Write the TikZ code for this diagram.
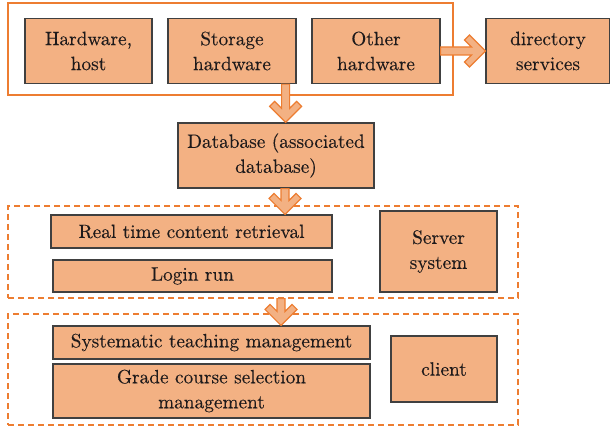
\documentclass[tikz,border=0pt]{standalone}
\usepackage{fontspec}
\newfontfamily\boxfont{lmroman10-regular.otf}[FakeBold=0.2]
\usetikzlibrary{calc}
\definecolor{peach}{RGB}{243,177,131}
\definecolor{orng}{RGB}{237,125,49}
\definecolor{bord}{RGB}{64,64,64}
\definecolor{txt}{RGB}{30,26,27}
\tikzset{
 box/.style={draw=bord, fill=peach, line width=1.2pt, inner sep=0pt, align=center,
   font=\boxfont\fontsize{19.3}{25}\selectfont, text=txt},
 grp/.style={draw=orng, line width=1.2pt, inner sep=0pt},
 grpd/.style={grp, dash pattern=on 6pt off 4pt},
 arr/.style={draw=orng, fill=peach, line width=1.2pt, line join=miter},
}
\newcommand\chevdown[2]{%
 \draw[arr] let \p1=(#1), \p2=(#2) in (\x2,\y2) -- (\x2-16pt,\y2+16pt) -- (\x2-11pt,\y2+21pt)
  -- (\x2-4pt,\y2+14pt) -- (\x2-4pt,\y1) -- (\x2+4pt,\y1) -- (\x2+4pt,\y2+14pt)
  -- (\x2+11pt,\y2+21pt) -- (\x2+16pt,\y2+16pt) -- cycle;}
\newcommand\chevright[2]{%
 \draw[arr] let \p1=(#1), \p2=(#2) in (\x2,\y2) -- (\x2-16pt,\y2+16pt) -- (\x2-21pt,\y2+11pt)
  -- (\x2-14pt,\y2+4pt) -- (\x1,\y2+4pt) -- (\x1,\y2-4pt) -- (\x2-14pt,\y2-4pt)
  -- (\x2-21pt,\y2-11pt) -- (\x2-16pt,\y2-16pt) -- cycle;}
\begin{document}
\begin{tikzpicture}[x=1pt,y=-1pt]
\fill[white] (0,0) rectangle (610,428);
\useasboundingbox (0,0) rectangle (610,428);
% groups
\node[grp, minimum width=445pt, minimum height=92pt] (top) at (230.5,49) {};
\node[grpd, minimum width=510pt, minimum height=92pt] (srv) at (263,252) {};
\node[grpd, minimum width=510pt, minimum height=111pt] (cli) at (263,369.5) {};
% top row
\node[box, minimum width=127pt, minimum height=65pt] (hw) at (88.5,51) {Hardware,\\host};
\node[box, minimum width=128pt, minimum height=65pt] (st) at (232,51) {Storage\\hardware};
\node[box, minimum width=128pt, minimum height=65pt] (ot) at (376,51) {Other\\hardware};
\node[box, minimum width=124pt, minimum height=65pt] (dir) at (548,51) {directory\\services};
% database
\node[box, minimum width=196pt, minimum height=65pt] (db) at (276,155.5) {Database (associated\\database)};
% server group
\node[box, minimum width=281pt, minimum height=33pt] (rt) at (191.5,231.5) {Real time content retrieval};
\node[box, minimum width=279pt, minimum height=32pt] (lg) at (192.5,276) {Login run};
\node[box, minimum width=117pt, minimum height=81pt] (ss) at (438.5,251.5) {Server\\system};
% client group
\node[box, minimum width=317pt, minimum height=33pt] (sy) at (211.5,342.5) {Systematic teaching management};
\node[box, minimum width=317pt, minimum height=54pt] (gr) at (211.5,391) {Grade course selection\\management};
\node[box, minimum width=106pt, minimum height=66pt] (cl) at (444,369) {client};
% arrows
\coordinate (a1) at ($(st.south east)+(-11,0)$);
\chevdown{a1}{a1 |- db.north}
\coordinate (a2) at ($(db.south)+(9,0)$);
\chevdown{a2}{a2 |- rt.north}
\coordinate (a3) at ($(srv.south)+(18,0)$);
\chevdown{a3}{a3 |- sy.north}
\chevright{ot.east}{dir.west}
\end{tikzpicture}
\end{document}
